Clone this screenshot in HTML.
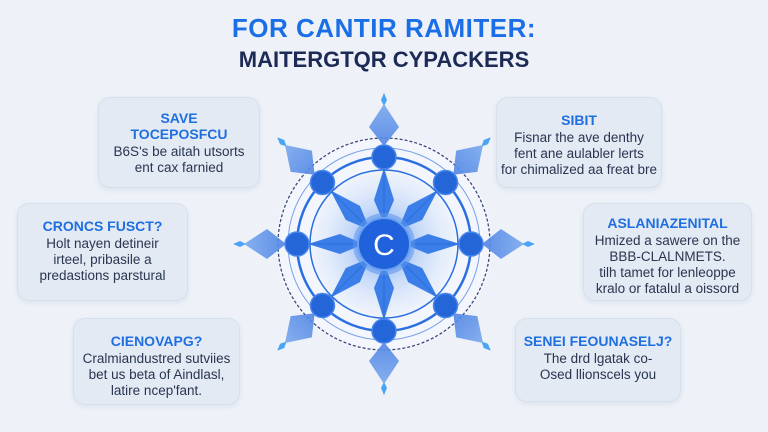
<!DOCTYPE html>
<html><head><meta charset="utf-8"><style>
body{margin:0;width:768px;height:432px;background:#eef2f8;font-family:"Liberation Sans",sans-serif;position:relative;overflow:hidden}
.t{position:absolute;left:0;width:768px;text-align:center;font-weight:bold}
.b{position:absolute;background:#e3eaf4;border:1px solid #d6dfec;border-radius:12px;text-align:center;color:#2a3550;font-size:13.5px;line-height:16px;box-shadow:0 2px 6px rgba(120,140,180,.15)}
.b h{display:block;color:#1f6fe0;font-weight:bold;font-size:14px;margin-bottom:2px}
</style></head><body>
<div class="t" style="top:13px;font-size:26px;color:#1a6ee6;letter-spacing:.5px">FOR CANTIR RAMITER:</div>
<div class="t" style="top:47px;font-size:22px;color:#1c2a55">MAITERGTQR CYPACKERS</div>

<div class="b" style="left:98px;top:97px;width:162px;height:91px;box-sizing:border-box;padding-top:12px"><h>SAVE<br>TOCEPOSFCU</h>B6S's be aitah utsorts<br>ent cax farnied</div>
<div class="b" style="left:17px;top:203px;width:171px;height:98px;box-sizing:border-box;padding-top:14px"><h>CRONCS FUSCT?</h>Holt nayen detineir<br>irteel, pribasile a<br>predastions parstural</div>
<div class="b" style="left:73px;top:318px;width:167px;height:87px;box-sizing:border-box;padding-top:14px"><h>CIENOVAPG?</h>Cralmiandustred sutviies<br>bet us beta of Aindlasl,<br>latire ncep'fant.</div>

<div class="b" style="left:496px;top:97px;width:166px;height:91px;box-sizing:border-box;padding-top:14px"><h>SIBIT</h>Fisnar the ave denthy<br>fent ane aulabler lerts<br>for chimalized aa freat bre</div>
<div class="b" style="left:583px;top:203px;width:169px;height:98px;box-sizing:border-box;padding-top:11px"><h>ASLANIAZENITAL</h>Hmized a sawere on the<br>BBB-CLALNMETS.<br>tilh tamet for lenleoppe<br>kralo or fatalul a oissord</div>
<div class="b" style="left:515px;top:318px;width:166px;height:84px;box-sizing:border-box;padding-top:14px"><h>SENEI FEOUNASELJ?</h>The drd lgatak co-<br>Osed llionscels you</div>

<svg style="position:absolute;left:0;top:0" width="768" height="432" viewBox="0 0 768 432">
<defs>
<radialGradient id="g" cx="0.5" cy="0.5" r="0.5"><stop offset="0" stop-color="#5a95f0" stop-opacity=".9"/><stop offset=".5" stop-color="#a9c7f5" stop-opacity=".6"/><stop offset="1" stop-color="#e6eefb" stop-opacity=".3"/></radialGradient>
<linearGradient id="sp" x1="0" y1="0" x2="0" y2="1"><stop offset="0" stop-color="#7aa8ee"/><stop offset="1" stop-color="#4f84e4"/></linearGradient>
</defs>
<g transform="translate(384,244)">
<circle r="108" fill="#f3f6fc"/>
<circle r="106" fill="none" stroke="#3a4a78" stroke-width="1.3" stroke-dasharray="3 2"/>
<circle r="96" fill="none" stroke="#7aa2e8" stroke-width="1"/>
<circle r="87" fill="none" stroke="#2a6fe0" stroke-width="2.5"/>
<circle r="74" fill="url(#g)" stroke="#2a6fe0" stroke-width="1.5"/>
<g id="s8">
<polygon points="0,-98 -15,-117 0,-140 15,-117" fill="url(#sp)" opacity=".9"/>
<polygon points="0,-138 -3,-144 0,-151 3,-144" fill="#4aa3f5"/>
<polygon points="0,-20 -10,-44 0,-76 10,-44" fill="#3b7ee8"/>
<line x1="0" y1="-20" x2="0" y2="-87" stroke="#2a6fe0" stroke-width="1"/>
<circle cy="-87" r="12" fill="#2466d8" stroke="#4a86ea" stroke-width="1.5"/>
</g>
<use href="#s8" transform="rotate(45)"/>
<use href="#s8" transform="rotate(90)"/>
<use href="#s8" transform="rotate(135)"/>
<use href="#s8" transform="rotate(180)"/>
<use href="#s8" transform="rotate(225)"/>
<use href="#s8" transform="rotate(270)"/>
<use href="#s8" transform="rotate(315)"/>
<circle r="31" fill="#5b93ee" opacity=".55"/>
<circle r="26" fill="#1f62dc" stroke="#6aa0f0" stroke-width="2"/>
<text x="0" y="11" text-anchor="middle" font-family="Liberation Sans" font-size="30" fill="#fff">C</text>
</g>
</svg>
</body></html>
